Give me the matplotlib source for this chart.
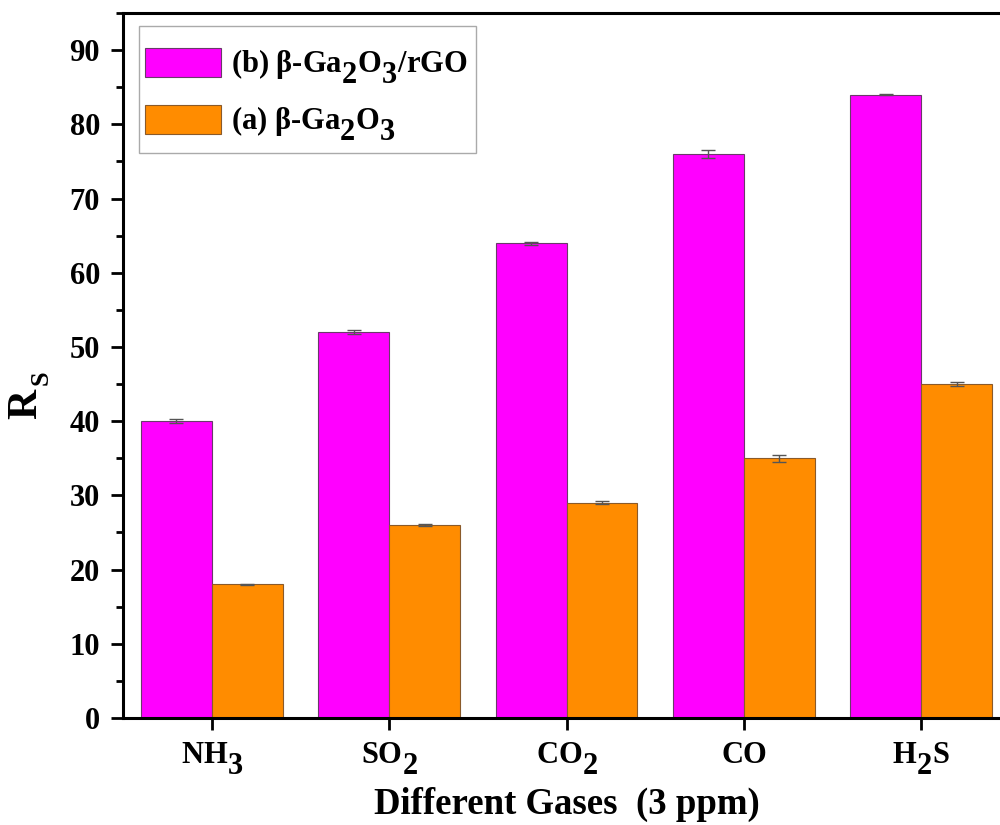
import numpy as np
import matplotlib.pyplot as plt
import matplotlib._mathtext as mt
from matplotlib.patches import Rectangle
from matplotlib.ticker import MultipleLocator

# subscripts in the original are full size and dropped well below baseline
mt.SHRINK_FACTOR = 1.0
mt.FontConstantsBase.sub1 = 0.75

plt.rcParams['font.family'] = ['Liberation Serif', 'DejaVu Serif']
plt.rcParams['font.weight'] = 'bold'
plt.rcParams['mathtext.fontset'] = 'custom'
plt.rcParams['mathtext.rm'] = 'Liberation Serif:bold'
plt.rcParams['mathtext.it'] = 'Liberation Serif:bold'
plt.rcParams['mathtext.bf'] = 'Liberation Serif:bold'

# data
gases = ['NH$_3$', 'SO$_2$', 'CO$_2$', 'CO', 'H$_2$S']
rs_rgo = [40, 52, 64, 76, 84]
rs_rgo_err = [0.3, 0.3, 0.2, 0.5, 0.1]
rs_ga2o3 = [18, 26, 29, 35, 45]
rs_ga2o3_err = [0.1, 0.1, 0.2, 0.5, 0.3]

x = np.arange(len(gases))
w = 0.4

fig = plt.figure(figsize=(10, 8.25), dpi=100)
ax = fig.add_axes([0.123, 0.1297, 0.887, 0.8545])

err_kw = dict(ecolor='#555555', elinewidth=1, capsize=5, capthick=1)
ax.bar(x - w / 2, rs_rgo, w, yerr=rs_rgo_err, color='#FF00FF',
       edgecolor='#6a3a6a', linewidth=0.8, error_kw=err_kw,
       label=r'(b) β-Ga$_2$O$_3$/rGO')
ax.bar(x + w / 2, rs_ga2o3, w, yerr=rs_ga2o3_err, color='#FF8C00',
       edgecolor='#8a5a2a', linewidth=0.8, error_kw=err_kw,
       label=r'(a) β-Ga$_2$O$_3$')

ax.set_xlim(-0.5, 4.5)
ax.set_ylim(0, 95)
ax.set_xticks(x)
ax.set_xticklabels(gases)
ax.yaxis.set_major_locator(MultipleLocator(10))
ax.yaxis.set_minor_locator(MultipleLocator(5))

for s in ax.spines.values():
    s.set_linewidth(2.2)
ax.tick_params(axis='both', which='major', direction='out', length=8.5,
               width=2, labelsize=22, pad=8)
ax.tick_params(axis='y', which='minor', direction='out', length=5, width=2)
ax.tick_params(axis='x', which='minor', bottom=False)

ax.set_xlabel('Different Gases  (3 ppm)', fontsize=26.5, fontweight='bold', labelpad=7)

# y label R with a small subscript S (drawn as two pieces)
fig.text(0.026, 1 - 404 / 825, 'R', rotation=90, ha='center', va='center',
         fontsize=30, fontweight='bold')
fig.text(0.041, 1 - 378 / 825, 'S', rotation=90, ha='center', va='center',
         fontsize=19, fontweight='bold')

# legend frame drawn separately so the padding can follow the original
ax.add_patch(Rectangle((0.018, 0.8014), 0.38, 0.1802, transform=ax.transAxes,
                       facecolor='white', edgecolor='#aaaaaa', linewidth=1,
                       clip_on=False, zorder=4.9))
leg = ax.legend(loc='upper left', bbox_to_anchor=(0.0248, 0.951), fontsize=22,
                handlelength=2.5, handleheight=1.1, handletextpad=0.33,
                borderaxespad=0, frameon=False, borderpad=0, labelspacing=0.62)
leg.set_zorder(5)

fig.savefig('out.png', dpi=100)
